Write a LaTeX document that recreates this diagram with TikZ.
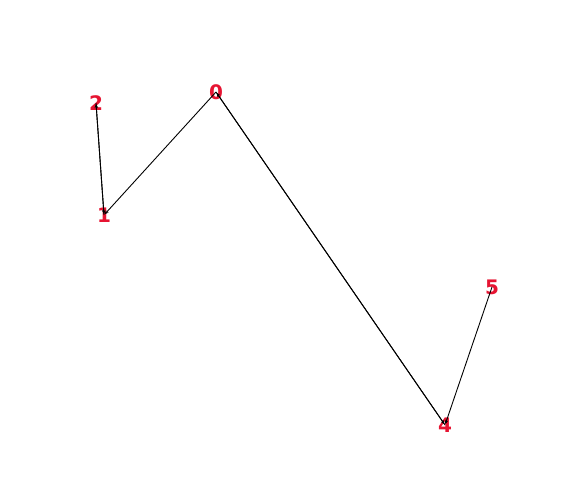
\documentclass[tikz,border=0pt]{standalone}
\usepackage{fontspec}
\setsansfont{DejaVu Sans}
\usetikzlibrary{arrows.meta}

\definecolor{lblred}{RGB}{230,20,50}
\tikzset{
  vtx/.style={text=lblred, font=\sffamily\bfseries\fontsize{20}{20}\selectfont, inner sep=0pt},
  lnk/.style={draw=black, line width=0.9pt, -{Stealth[length=4pt,width=3.5pt]}, shorten >=1pt}
}

\begin{document}
\begin{tikzpicture}[x=1pt, y=-1pt]
        \useasboundingbox (0,0) rectangle (564,477);
        \node[vtx] (v0) at (216,92) {0};
        \node[vtx] (v1) at (104,215) {1};
        \node[vtx] (v2) at (96,103) {2};
        \node[vtx] (v4) at (445,425) {4};
        \node[vtx] (v5) at (492,287) {5};
        % edges, arrow tips tiny as in the plot
        \foreach \a/\b in {v0/v1, v2/v1, v1/v2, v4/v0, v0/v4, v5/v4}
          \draw[lnk] (\a.center) -- (\b.center);
        \end{tikzpicture}
\end{document}
